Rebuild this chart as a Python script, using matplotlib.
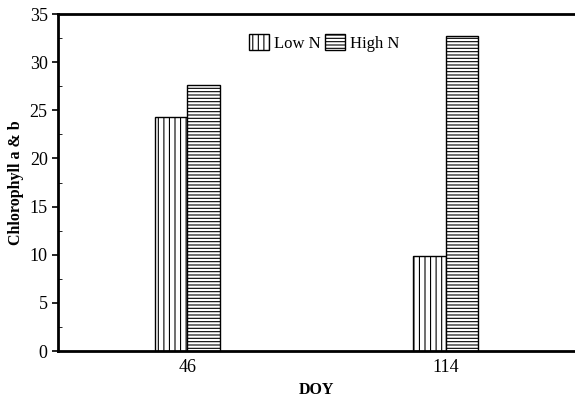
import matplotlib
matplotlib.use('Agg')
import matplotlib.pyplot as plt
import numpy as np
from matplotlib.ticker import MultipleLocator

plt.rcParams['font.family'] = ['Liberation Serif', 'DejaVu Serif']
plt.rcParams['hatch.linewidth'] = 0.8

# data
doy = ['46', '114']
low_n = [24.3, 9.9]
high_n = [27.6, 32.7]

fig = plt.figure(figsize=(5.75, 4.03), dpi=100)
ax = fig.add_axes([0.101, 0.129, 0.899, 0.836])

x = np.arange(len(doy))
w = 0.125
ax.bar(x - w / 2, low_n, w, color='white', edgecolor='black', hatch='|||',
       linewidth=1.0, label='Low N')
ax.bar(x + w / 2, high_n, w, color='white', edgecolor='black', hatch='-----',
       linewidth=1.0, label='High N')

ax.set_xlim(-0.5, 1.5)
ax.set_ylim(0, 35)
ax.set_xticks(x)
ax.set_xticklabels(doy)
ax.yaxis.set_major_locator(MultipleLocator(5))
ax.yaxis.set_minor_locator(MultipleLocator(2.5))
ax.tick_params(axis='both', labelsize=13, width=1.2, length=4)
ax.tick_params(axis='x', length=0, pad=6)
ax.tick_params(axis='y', which='minor', direction='in', length=3)

for s in ['left', 'bottom', 'top']:
    ax.spines[s].set_linewidth(2)
ax.spines['right'].set_visible(False)

ax.set_ylabel('Chlorophyll a & b', fontsize=11.5, fontweight='bold', labelpad=4)
ax.set_xlabel('DOY', fontsize=11.5, fontweight='bold', labelpad=4)

ax.legend(loc='upper center', bbox_to_anchor=(0.515, 0.985), ncol=2, frameon=False,
          fontsize=12, handlelength=1.2, handleheight=1.1, columnspacing=0.3,
          handletextpad=0.3)

fig.savefig('out.png', dpi=100)
